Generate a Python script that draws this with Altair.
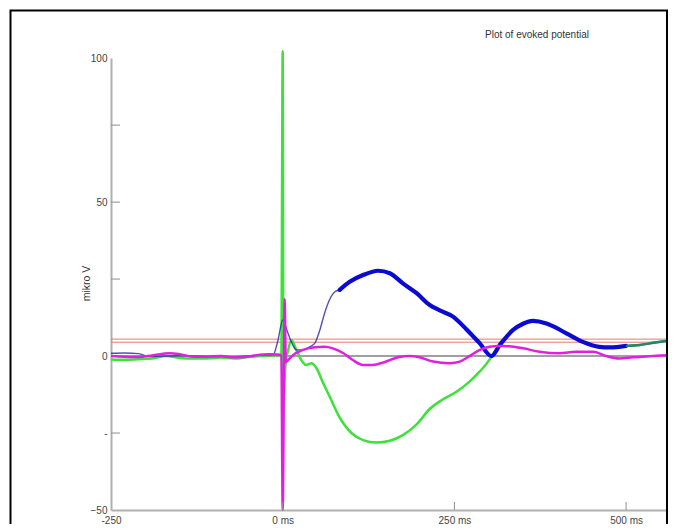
import altair as alt
import pandas as pd

# ---------------- data ----------------
green_t = [-250, -230, -210, -190, -170, -150, -130, -110, -90, -70, -50, -30, -10, -2,
           0, 1, 4, 8, 12.6, 20, 27, 34, 42, 49, 59, 68, 83, 100, 117, 136, 156, 175,
           195, 214, 233, 253, 272, 287, 300, 304, 316, 335, 350, 364, 384, 413, 437,
           461, 476, 500, 520, 540, 561]
green_v = [-1.1, -1.2, -1.0, -0.8, 0.0, -0.6, -0.8, -0.8, -0.5, -0.8, -0.3, 0.0, 0.3, 0.0,
           99, -14, -3, 2, 5.2, 1.9, -1.3, -2.9, -2.3, -3.9, -8.8, -13, -20, -25, -27.3, -28.1, -27.5, -25.7,
           -22.2, -17.2, -14.1, -11.6, -8.3, -5.0, -1.5, 0.0, 3.6, 8.4, 10.5, 11.4, 10.6, 7.4, 4.6,
           3.0, 2.8, 3.3, 3.6, 4.3, 5.0]

blue_t = [-250, -230, -210, -194, -170, -150, -130, -110, -90, -70, -50, -30, -14, -7,
          0, 7.7, 12.6, 20, 29.6, 39, 46.6, 54, 61, 68, 76, 83, 97.5, 117, 139, 156, 175,
          195, 214, 228, 248, 267, 287, 304, 316, 335, 350, 364, 384, 413, 437, 461, 476,
          500, 520, 540, 561]
blue_v = [0.9, 1.0, 0.8, -0.2, 0.0, 0.1, 0.0, -0.1, -0.2, -0.2, 0.0, 0.3, 0.4, 5.0,
          11.7, 7.4, 4.6, 2.0, 2.0, 3.0, 4.1, 8.4, 13.9, 18.2, 20.9, 21.5, 24.1, 26.3, 27.7, 26.9, 23.6,
          20.4, 16.6, 14.9, 12.8, 8.8, 4.1, 0.0, 3.6, 8.4, 10.5, 11.4, 10.6, 7.4, 4.6, 3.0, 2.8,
          3.3, 3.6, 4.3, 5.0]
blue_thick_from, blue_thick_to = 80, 500

magenta_t = [-250, -230, -210, -190, -165, -150, -130, -110, -90, -72, -55, -38, -20, -8, -2,
             0, 2.9, 4.5, 7.7, 15, 29.6, 44, 61, 73, 88, 102, 117, 131, 148, 168, 185, 199,
             219, 243, 258, 272, 287, 301, 316, 330, 350, 374, 403, 427, 452, 471, 490,
             510, 539, 561]
magenta_v = [0.0, -0.2, -0.3, 0.2, 0.9, 0.6, -0.2, -0.2, 0.0, -0.4, -0.3, 0.3, 0.6, 0.5, 0.3,
             -50, 18.5, -2.0, -1.3, 0.3, 2.0, 2.8, 3.0, 2.5, 1.0, -1.3, -2.9, -2.9, -2.0, -0.4, 0.0, -0.4,
             -1.8, -2.3, -1.8, 0.0, 2.0, 3.0, 3.3, 3.2, 2.5, 1.4, 0.9, 1.4, 1.4, 0.0, -0.8,
             -0.4, 0.0, 0.3]

red_levels = [5.5, 4.5]
zero_level = [0]
x_tick_values = [-250, 0, 250, 500]
x_inner_ticks = [0, 250, 500]
y_label_values = [-50, -25, 0, 50, 96.8]
y_inner_ticks = [-25, 25, 50, 75]
title_text = "Plot of evoked potential"
y_title = "mikro V"

# ---------------- build ----------------
W, H = 557, 452
xs = alt.Scale(domain=[-250, 561], nice=False, zero=False)
ys = alt.Scale(domain=[-50, 96.8], nice=False, zero=False)
FONT = "Liberation Sans"

green_df = pd.DataFrame({"t": green_t, "v": green_v})
blue_df = pd.DataFrame({"t": blue_t, "v": blue_v})
blue_thick_df = blue_df[(blue_df.t >= blue_thick_from) & (blue_df.t <= blue_thick_to)]
blue_tail_df = blue_df[blue_df.t >= blue_thick_to]
mag_df = pd.DataFrame({"t": magenta_t, "v": magenta_v})

x_axis = alt.Axis(values=x_tick_values, grid=False, tickSize=0, domainColor="#b0b0b0",
                  domainWidth=2, labelFont=FONT, labelFontSize=10, labelColor="#444",
                  labelPadding=5, labelExpr="datum.value == -250 ? '-250' : datum.value + ' ms'",
                  title=None, labelFlush=False, orient="bottom")
y_axis = alt.Axis(values=y_label_values, grid=False, tickSize=0, domainColor="#b0b0b0",
                  domainWidth=2, labelFont=FONT, labelFontSize=10, labelColor="#444",
                  labelPadding=4, labelFlush=False, orient="left",
                  labelExpr="datum.value > 90 ? '100' : datum.value == -25 ? '-\u00a0\u00a0\u00a0' : datum.label",
                  title=y_title, titleFont=FONT, titleFontSize=10.5, titleFontWeight="normal",
                  titleColor="#333", titleX=-25, titleY=225, titleAlign="center",
                  titleBaseline="middle", titleAngle=-90)


def X():
    return alt.X("t:Q", scale=xs, axis=x_axis)


def Y():
    return alt.Y("v:Q", scale=ys, axis=y_axis)


zero = alt.Chart(pd.DataFrame({"v": zero_level})).mark_rule(color="#a0a0a0", strokeWidth=2).encode(y=Y())
red = alt.Chart(pd.DataFrame({"v": red_levels})).mark_rule(color="#e07a70", strokeWidth=1).encode(y=Y())
green = alt.Chart(green_df).mark_line(color="#3ee03a", strokeWidth=2.5, interpolate="monotone").encode(
    x=X(), y=Y(), order="t:Q")
blue_thin = alt.Chart(blue_df).mark_line(color="#2424a8", strokeWidth=1.4, opacity=0.8,
                                         interpolate="monotone").encode(x=X(), y=Y(), order="t:Q")
blue_thick = alt.Chart(blue_thick_df).mark_line(color="#0a0ad0", strokeWidth=4.2, strokeCap="round",
                                                interpolate="monotone").encode(x=X(), y=Y(), order="t:Q")
blue_tail = alt.Chart(blue_tail_df).mark_line(color="#2a7f78", strokeWidth=2.4,
                                              interpolate="monotone").encode(x=X(), y=Y(), order="t:Q")
magenta = alt.Chart(mag_df).mark_line(color="#e020e0", strokeWidth=2.5, interpolate="monotone").encode(
    x=X(), y=Y(), order="t:Q")
ytick = alt.Chart(pd.DataFrame({"v": y_inner_ticks})).mark_rule(color="#909090", strokeWidth=1).encode(
    y=Y(), x=alt.value(0), x2=alt.value(9))
xtick = alt.Chart(pd.DataFrame({"t": x_inner_ticks})).mark_rule(color="#909090", strokeWidth=1).encode(
    x=X(), y=alt.value(H - 8), y2=alt.value(H))
title = alt.Chart(pd.DataFrame({"s": [title_text]})).mark_text(
    align="left", baseline="middle", font=FONT, fontSize=10, color="#333"
).encode(text="s:N", x=alt.value(374), y=alt.value(-23))
frame = alt.Chart(pd.DataFrame({"s": [1]})).mark_rect(
    fillOpacity=0, stroke="black", strokeWidth=2
).encode(x=alt.value(-100.5), x2=alt.value(556), y=alt.value(-47.5), y2=alt.value(480))

chart = alt.layer(zero, red, green, blue_thin, blue_thick, blue_tail, magenta, ytick, xtick, title, frame).properties(
    width=W, height=H,
    padding={"left": 103, "top": 50, "right": 0, "bottom": 14},
    autosize=alt.AutoSizeParams(type="none"),
    background="white",
).configure_view(stroke=None)

chart.save("out.html", embed_options={"renderer": "svg", "actions": False})
